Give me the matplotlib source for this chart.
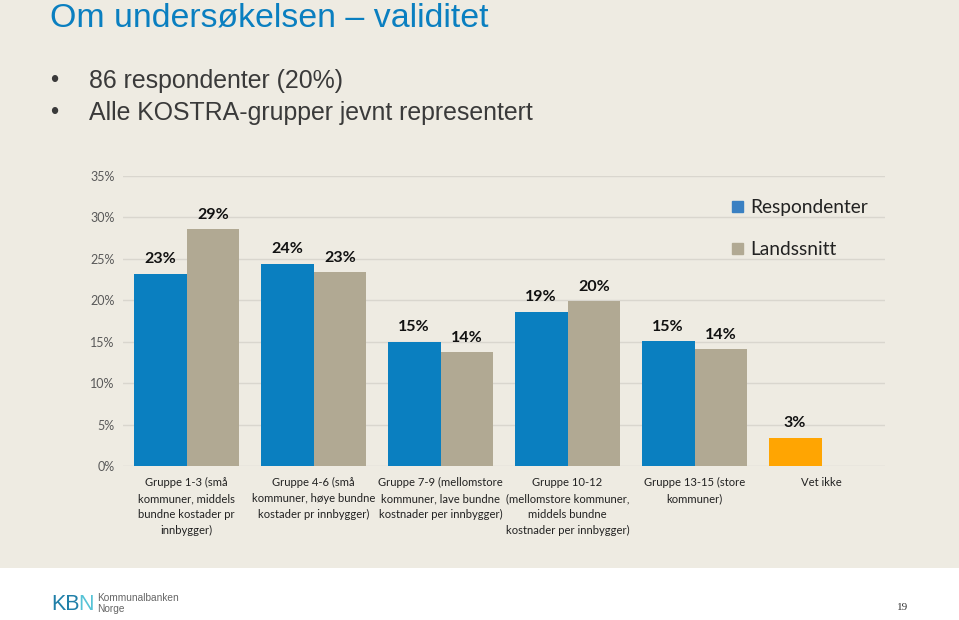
import matplotlib
matplotlib.use("Agg")
import matplotlib.pyplot as plt
import matplotlib.patches as mpatches
import numpy as np

# ---- data ----
categories = [
    "Gruppe 1-3 (små\nkommuner, middels\nbundne kostader pr\ninnbygger)",
    "Gruppe 4-6 (små\nkommuner, høye bundne\nkostader pr innbygger)",
    "Gruppe 7-9 (mellomstore\nkommuner, lave bundne\nkostnader per innbygger)",
    "Gruppe 10-12\n(mellomstore kommuner,\nmiddels bundne\nkostnader per innbygger)",
    "Gruppe 13-15 (store\nkommuner)",
    "Vet ikke",
]
respondenter = [23.2, 24.4, 15.0, 18.6, 15.05, 3.4]
landssnitt = [28.6, 23.4, 13.7, 19.9, 14.1, None]
series_names = ["Respondenter", "Landssnitt"]
yticks = [0, 5, 10, 15, 20, 25, 30, 35]

title = "Om undersøkelsen – validitet"
bullets = ["86 respondenter (20%)", "Alle KOSTRA-grupper jevnt representert"]

BG = "#EEEBE2"
BLUE = "#0A7FC0"
GRAY = "#B1A993"
ORANGE = "#FFA502"
CH_FONT = ["Lato", "DejaVu Sans"]

fig = plt.figure(figsize=(9.59, 6.20), dpi=100)
fig.patch.set_facecolor("white")

# slide background band
bgax = fig.add_axes([0, 0, 1, 1], zorder=-10)
bgax.set_xlim(0, 959); bgax.set_ylim(620, 0)
bgax.axis("off")
bgax.add_patch(mpatches.Rectangle((0, 0), 959, 568, color=BG, lw=0))

# title & bullets
fig.text(50/959, 1 - 18/620, title, fontsize=24.4, color=BLUE,
         family="Liberation Sans", va="center", ha="left")
for i, b in enumerate(bullets):
    y = 1 - (81 + i * 32) / 620
    fig.text(50/959, y, "•", fontsize=17, color="#3A3A3A", family="Liberation Sans",
             va="center", ha="left")
    fig.text(89/959, y, b, fontsize=17.9, color="#3A3A3A", family="Liberation Sans",
             va="center", ha="left")

# chart
ax = fig.add_axes([123/959, 154/620, (885-123)/959, (466-176)/620])
ax.set_facecolor("none")
x = np.arange(len(categories))
w = 0.417
resp_colors = [BLUE] * (len(categories) - 1) + [ORANGE]
ax.bar(x - w/2, respondenter, width=w, color=resp_colors, zorder=3)
ls_x = [xi + w/2 for xi, v in zip(x, landssnitt) if v is not None]
ls_v = [v for v in landssnitt if v is not None]
ax.bar(ls_x, ls_v, width=w, color=GRAY, zorder=3)

for xi, v in zip(x - w/2, respondenter):
    ax.text(xi, v + 0.9, f"{round(v)}%", ha="center", va="bottom", fontsize=11.5,
            fontweight="bold", family=CH_FONT, color="#111111")
for xi, v in zip(ls_x, ls_v):
    ax.text(xi, v + 0.9, f"{round(v)}%", ha="center", va="bottom", fontsize=11.5,
            fontweight="bold", family=CH_FONT, color="#111111")

ax.set_xlim(-0.5, len(categories) - 0.5)
ax.set_ylim(0, 35)
ax.set_yticks(yticks)
ax.set_yticklabels([f"{t}%" for t in yticks], family=CH_FONT, fontsize=9, color="#595959")
ax.yaxis.grid(True, color="#D9D6CE", lw=1, zorder=0)
ax.set_axisbelow(True)
ax.set_xticks(x)
ax.set_xticklabels(categories, family=CH_FONT, fontsize=8.1, color="#222222",
                   va="top", linespacing=1.55)
ax.tick_params(axis="both", length=0)
ax.tick_params(axis="y", pad=6)
ax.tick_params(axis="x", pad=8)
for s in ax.spines.values():
    s.set_visible(False)

handles = [mpatches.Patch(color="#3A80C2"), mpatches.Patch(color=GRAY)]
leg = fig.legend(handles, series_names, loc="upper left",
                 bbox_to_anchor=(715/959, 1 - 182/620), frameon=False,
                 prop={"family": CH_FONT, "size": 13.8}, handlelength=0.55,
                 handleheight=0.55, handletextpad=0.4, labelspacing=1.3)
for t in leg.get_texts():
    t.set_color("#222222")

# footer
fig.text(51/959, 1 - 604/620, "KB", fontsize=15.5, color="#1F7FA8",
         family="Liberation Sans", va="center", ha="left")
fig.text(78/959, 1 - 604/620, "N", fontsize=15.5, color="#56C3D6",
         family="Liberation Sans", va="center", ha="left")
fig.text(97/959, 1 - 598/620, "Kommunalbanken", fontsize=7.3, color="#666666",
         family="Liberation Sans", va="center", ha="left")
fig.text(97/959, 1 - 609/620, "Norge", fontsize=7.3, color="#666666",
         family="Liberation Sans", va="center", ha="left")
fig.text(903/959, 1 - 607/620, "19", fontsize=8, color="#333333",
         family="Liberation Serif", va="center", ha="center")

fig.savefig("out.png", dpi=100, facecolor=fig.get_facecolor())
